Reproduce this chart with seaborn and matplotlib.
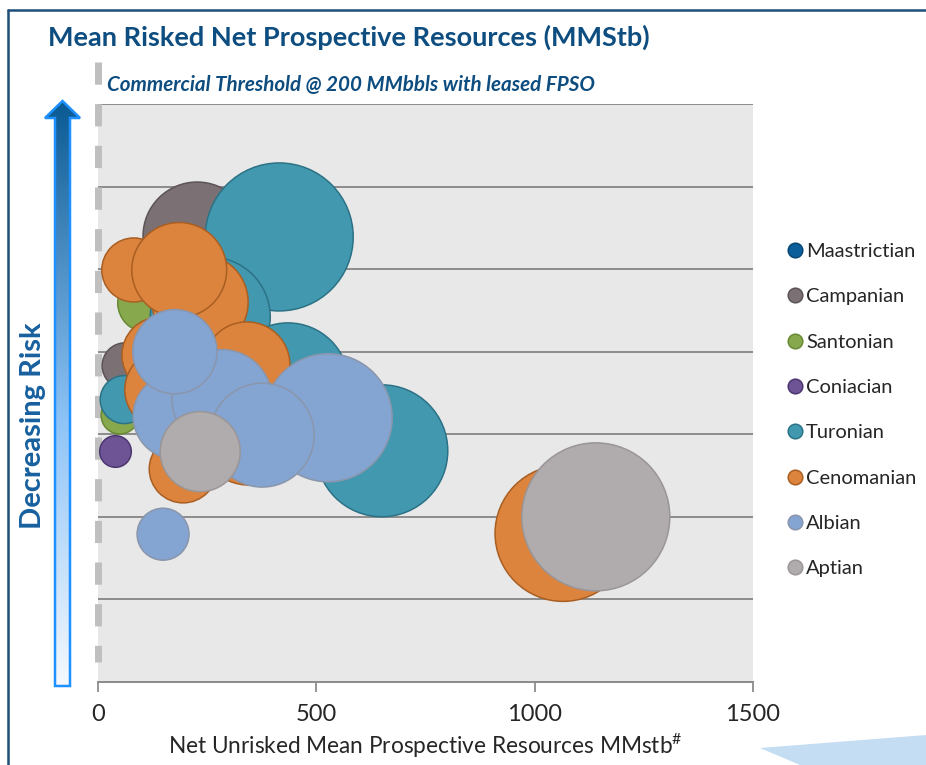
import matplotlib.pyplot as plt
import numpy as np
import pandas as pd
import seaborn as sns
from matplotlib.colors import LinearSegmentedColormap
from matplotlib.lines import Line2D
from matplotlib.patches import Polygon

sns.set_style("white")
plt.rcParams["font.family"] = ["Lato", "DejaVu Sans"]
plt.rcParams["mathtext.default"] = "regular"

# ---- data --------------------------------------------------------------
STAGES = ["Maastrictian", "Campanian", "Santonian", "Coniacian",
          "Turonian", "Cenomanian", "Albian", "Aptian"]
FACE = {"Maastrictian": "#0B5E99", "Campanian": "#7B7174", "Santonian": "#87A84C",
        "Coniacian": "#6E5495", "Turonian": "#4298AF", "Cenomanian": "#DC843D",
        "Albian": "#84A4D2", "Aptian": "#B0ABAC"}
EDGE = {"Maastrictian": "#084775", "Campanian": "#5C5357", "Santonian": "#688A34",
        "Coniacian": "#4B3670", "Turonian": "#2C7286", "Cenomanian": "#A95E22",
        "Albian": "#8A96AB", "Aptian": "#9A9596"}

# bubbles in drawing order (later ones sit on top)
stage = ["Campanian", "Campanian",
         "Santonian", "Santonian",
         "Coniacian",
         "Turonian", "Turonian", "Turonian", "Turonian", "Turonian",
         "Cenomanian", "Cenomanian", "Cenomanian", "Cenomanian", "Cenomanian",
         "Cenomanian", "Cenomanian", "Cenomanian", "Cenomanian",
         "Albian", "Albian", "Albian", "Albian", "Albian", "Albian",
         "Aptian", "Aptian"]
unrisked = [227, 62,
            112, 50,
            38,
            415, 257, 435, 650, 60,
            82, 234, 348, 341, 142, 153, 195, 186, 1065,
            527, 179, 284, 176, 376, 149,
            234, 1140]
# position on the (unlabelled) risk axis, 0 = high risk, 70 = low risk
chance = [54.0, 38.3,
          45.9, 32.3,
          28.0,
          53.9, 44.2, 36.1, 28.0, 34.2,
          49.9, 46.0, 30.5, 38.4, 39.6, 35.4, 25.8, 49.9, 18.0,
          32.0, 32.2, 34.2, 40.0, 29.9, 17.9,
          27.9, 20.0]
# mean risked net prospective resources (bubble size)
risked = [117, 21,
          34, 14,
          10,
          219, 144, 149, 174, 23,
          41, 92, 121, 74, 58, 64, 46, 90, 185,
          164, 74, 100, 71, 108, 27,
          64, 219]

W, H = 926, 765
fig = plt.figure(figsize=(W / 100, H / 100), dpi=100)

# overlay in pixel coordinates for the decorations around the chart
deco = fig.add_axes([0, 0, 1, 1])
deco.set_xlim(0, W)
deco.set_ylim(H, 0)
deco.axis("off")

ax = fig.add_axes([98 / W, 1 - 682 / H, 655 / W, 578 / H])
ax.set_facecolor("#E8E8E8")

df = pd.DataFrame({"stage": stage, "unrisked": unrisked,
                   "chance": chance, "risked": risked})

for st in STAGES:
    sub = df[df.stage == st]
    if sub.empty:
        continue
    sns.scatterplot(data=sub, x="unrisked", y="chance", size="risked",
                    sizes=(0, 51.84 * 250), size_norm=(0, 250),
                    color=FACE[st], edgecolor=EDGE[st], linewidth=1.1,
                    alpha=1, legend=False, ax=ax, zorder=3)

ax.set_xlim(0, 1500)
ax.set_ylim(0, 70)
ax.set_xticks([0, 500, 1000, 1500])
ax.set_yticks(range(0, 71, 10))
ax.yaxis.grid(True, color="#8C8C8C", lw=1.4)
ax.xaxis.grid(False)
ax.set_axisbelow(True)
ax.tick_params(axis="y", left=False, labelleft=False)
ax.tick_params(axis="x", bottom=True, direction="out", length=7, width=1.3,
               color="#8C8C8C", labelsize=17, pad=9)
for s in ["left", "top", "right"]:
    ax.spines[s].set_visible(False)
ax.spines["bottom"].set_color("#8C8C8C")
ax.spines["bottom"].set_linewidth(1.4)
ax.set_xlabel("Net Unrisked Mean Prospective Resources MMstb$^{\\#}$",
              fontsize=16.3, labelpad=5)
ax.set_ylabel("")

# dashed commercial threshold line
ax.plot([0, 0], [1.073, 0.035], transform=ax.get_xaxis_transform(),
        color="#BFBFBF", lw=5, dashes=(3.2, 2.8), clip_on=False, zorder=2)

# gradient "decreasing risk" arrow
pts = [(55, 686), (55, 118), (45, 118), (62.5, 101), (80, 118), (70, 118), (70, 686)]
arrow = Polygon(pts, closed=True, facecolor="none", edgecolor="#1E90FF", lw=1.8,
                transform=deco.transData, zorder=3)
deco.add_patch(arrow)
cmap = LinearSegmentedColormap.from_list(
    "risk", [(0, "#F5F9FD"), (0.45, "#8EC4F7"), (1, "#0A5A94")])
grad = np.linspace(1, 0, 256).reshape(-1, 1)
im = deco.imshow(grad, extent=(44, 81, 686, 101), origin="upper", cmap=cmap,
                 aspect="auto", zorder=2)
im.set_clip_path(arrow)
deco.text(33, 426, "Decreasing Risk", rotation=90, ha="center", va="center",
          fontsize=21, fontweight="bold", color="#17609E")

# titles
deco.text(48, 37, "Mean Risked Net Prospective Resources (MMStb)", ha="left",
          va="center", fontsize=19.5, fontweight="bold", color="#0E4D80")
deco.text(107, 85, "Commercial Threshold @ 200 MMbbls with leased FPSO", ha="left",
          va="center", fontsize=14.9, fontweight="bold", fontstyle="italic",
          color="#0E4D80")

# slide frame and corner ribbon
deco.plot([8, 8], [H, 10], color="#1F4E79", lw=1.8)
deco.plot([8, W], [10, 10], color="#1F4E79", lw=1.8)
deco.add_patch(Polygon([(760, 748), (W, 735), (W, H), (800, H)],
                       facecolor="#C5DDF2", edgecolor="none"))

handles = [Line2D([], [], marker="o", ls="", markersize=10.5,
                  markerfacecolor=FACE[s], markeredgecolor=EDGE[s],
                  markeredgewidth=1.1, label=s) for s in STAGES]
fig.legend(handles=handles, loc="upper left", bbox_to_anchor=(785 / W, 1 - 243 / H),
           frameon=False, fontsize=14.5, labelspacing=1.4, handletextpad=0.05,
           handlelength=1.0, borderaxespad=0, borderpad=0)

fig.savefig("out.png", dpi=100)
